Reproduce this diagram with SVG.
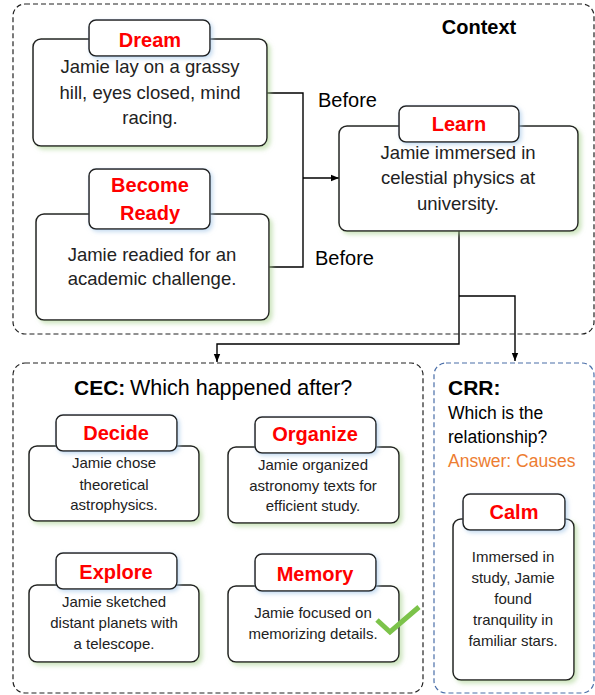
<svg xmlns="http://www.w3.org/2000/svg" width="595" height="695" viewBox="0 0 595 695">
<defs>
<filter id="gs" x="-10%" y="-10%" width="130%" height="130%"><feDropShadow dx="3" dy="3" stdDeviation="2" flood-color="#a9d18e" flood-opacity="0.55"/></filter>
<filter id="bs" x="-10%" y="-10%" width="130%" height="130%"><feDropShadow dx="2" dy="2" stdDeviation="2" flood-color="#9dc3e6" flood-opacity="0.6"/></filter>
<marker id="ah" viewBox="0 0 10 10" refX="10" refY="5" markerWidth="8" markerHeight="8" markerUnits="userSpaceOnUse" orient="auto"><path d="M0,1 L10,5 L0,9 z" fill="#000"/></marker>
</defs>
<style>
.grp{fill:none;stroke:#222;stroke-width:1.2;stroke-dasharray:5 3}
.grpb{fill:none;stroke:#4a6ea8;stroke-width:1.2;stroke-dasharray:5 3}
.body{fill:#fff;stroke:#222;stroke-width:1.5;filter:url(#gs)}
.lab{fill:#fff;stroke:#222;stroke-width:1.5;filter:url(#bs)}
.lt{font-family:"Liberation Sans",Arial,sans-serif;font-weight:bold;font-size:20px;fill:#ff0000;text-anchor:middle}
.bt{font-family:"Liberation Sans",Arial,sans-serif;font-size:18.5px;fill:#222;text-anchor:middle}
.st{font-family:"Liberation Sans",Arial,sans-serif;font-size:15px;fill:#222;text-anchor:middle}
.hd{font-family:"Liberation Sans",Arial,sans-serif;fill:#000}
.conn{fill:none;stroke:#000;stroke-width:1.4}
</style>
<rect class="grp" x="13" y="4" width="581" height="330" rx="12"/>
<rect class="grp" x="13" y="363" width="410" height="330" rx="12"/>
<rect class="grpb" x="434" y="363" width="160" height="330" rx="12"/>
<text class="hd" x="479" y="34" font-size="20" font-weight="bold" text-anchor="middle">Context</text>
<text class="hd" x="74" y="395" font-size="21"><tspan font-weight="bold">CEC:</tspan><tspan x="130" font-size="21.5">Which happened after?</tspan></text>
<text class="hd" x="448" y="395" font-size="21" font-weight="bold">CRR:</text>
<text class="hd" x="448" y="419" font-size="17.5">Which is the</text>
<text class="hd" x="448" y="443" font-size="17.5">relationship?</text>
<text class="hd" x="448" y="467" font-size="17.5" style="fill:#ed7d31">Answer: Causes</text>
<g id="connectors">
<polyline class="conn" points="267,93 303,93 303,267 269,267"/>
<line class="conn" x1="303" y1="178" x2="339" y2="178" marker-end="url(#ah)"/>
<polyline class="conn" points="459,231 459,344 217,344 217,362" marker-end="url(#ah)"/>
<polyline class="conn" points="459,296 515,296 515,361" marker-end="url(#ah)"/>
<text class="hd" x="318" y="107" font-size="20">Before</text>
<text class="hd" x="315" y="265" font-size="20">Before</text>
</g>
<g id="dream">
<rect class="body" x="33" y="39" width="234" height="107" rx="8"/>
<rect class="lab" x="89" y="20" width="121" height="36" rx="7"/>
<text class="lt" x="150" y="47">Dream</text>
<text class="bt" x="150" y="73">Jamie lay on a grassy</text>
<text class="bt" x="150" y="99">hill, eyes closed, mind</text>
<text class="bt" x="150" y="124">racing.</text>
</g>
<g id="becomeready">
<rect class="body" x="36" y="214" width="233" height="106" rx="8"/>
<rect class="lab" x="89" y="169" width="121" height="60" rx="7"/>
<text class="lt" x="150" y="192">Become</text>
<text class="lt" x="150" y="220">Ready</text>
<text class="bt" x="152" y="261">Jamie readied for an</text>
<text class="bt" x="152" y="285">academic challenge.</text>
</g>
<g id="learn">
<rect class="body" x="339" y="126" width="239" height="105" rx="8"/>
<rect class="lab" x="399" y="106" width="120" height="36" rx="7"/>
<text class="lt" x="459" y="131">Learn</text>
<text class="bt" x="458" y="159">Jamie immersed in</text>
<text class="bt" x="458" y="184">celestial physics at</text>
<text class="bt" x="458" y="210">university.</text>
</g>
<g id="decide">
<rect class="body" x="29" y="446" width="170" height="75" rx="8"/>
<rect class="lab" x="56" y="415" width="121" height="36" rx="7"/>
<text class="lt" x="116" y="440">Decide</text>
<text class="st" x="114" y="468">Jamie chose</text>
<text class="st" x="114" y="490">theoretical</text>
<text class="st" x="114" y="510">astrophysics.</text>
</g>
<g id="organize">
<rect class="body" x="228" y="447" width="171" height="76" rx="8"/>
<rect class="lab" x="255" y="417" width="121" height="36" rx="7"/>
<text class="lt" x="315" y="441">Organize</text>
<text class="st" x="313" y="470">Jamie organized</text>
<text class="st" x="313" y="491">astronomy texts for</text>
<text class="st" x="313" y="511">efficient study.</text>
</g>
<g id="explore">
<rect class="body" x="29" y="585" width="170" height="77" rx="8"/>
<rect class="lab" x="56" y="553" width="121" height="36" rx="7"/>
<text class="lt" x="116" y="579">Explore</text>
<text class="st" x="114" y="607">Jamie sketched</text>
<text class="st" x="114" y="628">distant planets with</text>
<text class="st" x="114" y="649">a telescope.</text>
</g>
<g id="memory">
<rect class="body" x="228" y="586" width="171" height="76" rx="8"/>
<rect class="lab" x="255" y="554" width="121" height="37" rx="7"/>
<text class="lt" x="315" y="581">Memory</text>
<text class="st" x="313" y="618">Jamie focused on</text>
<text class="st" x="313" y="639">memorizing details.</text>
<polyline points="377,620 390,632 419,607" fill="none" stroke="#7cc34a" stroke-width="5" stroke-linejoin="miter"/>
</g>
<g id="calm">
<rect class="body" x="453" y="519" width="121" height="161" rx="8"/>
<rect class="lab" x="463" y="494" width="102" height="36" rx="7"/>
<text class="lt" x="514" y="519">Calm</text>
<text class="st" x="513" y="562">Immersed in</text>
<text class="st" x="513" y="583">study, Jamie</text>
<text class="st" x="513" y="604">found</text>
<text class="st" x="513" y="625">tranquility in</text>
<text class="st" x="513" y="646">familiar stars.</text>
</g>
</svg>
